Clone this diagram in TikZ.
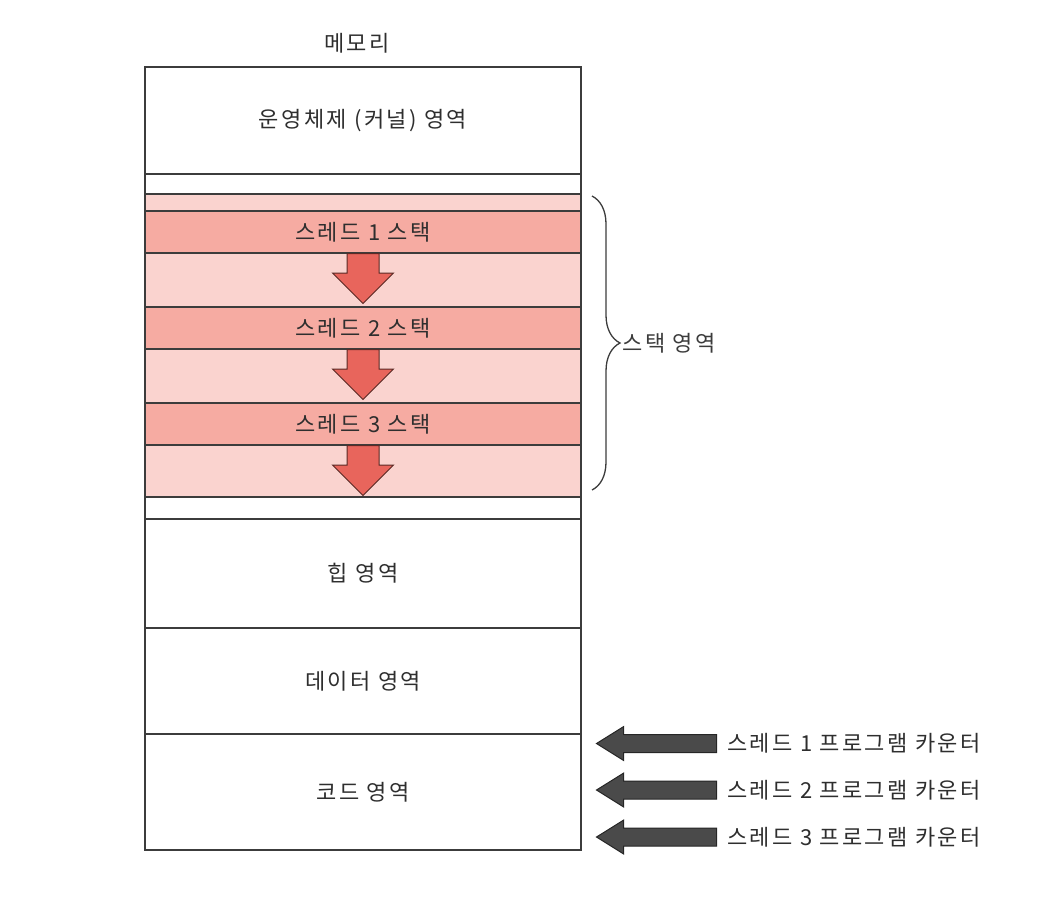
\documentclass[tikz,border=0pt]{standalone}
\usepackage{fontspec}
\setmainfont{Noto Sans CJK KR}[LetterSpace=11]
\usetikzlibrary{shapes.arrows, decorations.pathreplacing, positioning}

\definecolor{linegray}{HTML}{3C3C3C}
\definecolor{textgray}{HTML}{2E2E2E}
\definecolor{stacklight}{HTML}{FAD3CF}
\definecolor{stackdark}{HTML}{F6ABA2}
\definecolor{arrowred}{HTML}{E8655C}
\definecolor{arrowline}{HTML}{5A2A26}
\definecolor{pcgray}{HTML}{4A4A4A}

\begin{document}
\begin{tikzpicture}[x=1pt, y=-1pt,
    font=\fontsize{22}{26}\selectfont, text=textgray,
    area/.style={rectangle, draw=linegray, line width=1.5pt, minimum width=436pt, inner sep=0pt, outer sep=0pt},
    stackbg/.style={area, fill=stacklight},
    band/.style={area, fill=stackdark, minimum height=42pt},
    growarrow/.style={single arrow, draw=arrowline, fill=arrowred, line width=1pt, rotate=-90, anchor=tail,
        inner xsep=0pt, inner ysep=15.5pt, minimum height=50pt, single arrow head extend=14.5pt},
    pcarrow/.style={single arrow, draw=black!85, fill=pcgray, line width=1pt, rotate=180, anchor=tail,
        inner xsep=0pt, inner ysep=8.5pt, minimum height=120pt, single arrow head extend=8pt, single arrow tip angle=64},
    pclabel/.style={anchor=west, inner sep=0pt}
]
    \useasboundingbox (0,0) rectangle (1056,906);

    % memory layout, top to bottom
    \node[area, minimum height=107pt] (kernel) at (363,120.5) {운영체제 (커널) 영역};
    \node[area, minimum height=20pt, below=0pt of kernel] (gaptop) {};
    \node[stackbg, minimum height=303pt, below=0pt of gaptop] (stack) {};
    \node[area, minimum height=22pt, below=0pt of stack] (gapbot) {};
    \node[area, minimum height=109pt, below=0pt of gapbot] (heap) {힙 영역};
    \node[area, minimum height=106pt, below=0pt of heap] (data) {데이터 영역};
    \node[area, minimum height=116pt, below=0pt of data] (code) {코드 영역};

    \node[above=10pt of kernel, xshift=-6pt] (title) {메모리};

    % thread stacks
    \node[band, below=17pt of stack.north] (t1) {스레드 1 스택};
    \node[band, below=54pt of t1] (t2) {스레드 2 스택};
    \node[band, below=54pt of t2] (t3) {스레드 3 스택};

    \node[growarrow] (g1) at (t1.south) {};
    \node[growarrow] (g2) at (t2.south) {};
    \node[growarrow] (g3) at (t3.south) {};

    % stack brace
    \coordinate (btop) at (592,196);
    \coordinate (bbot) at (592,490);
    \draw[linegray, line width=1.3pt, decorate, decoration={brace, amplitude=28pt}]
        (btop) -- (bbot) node[midway, right=30pt, inner sep=0pt] (spclabel) {스택 영역};

    % program counters
    \node[pcarrow] (pc1) at (717,743.5) {};
    \node[pcarrow] (pc2) at (717,790) {};
    \node[pcarrow] (pc3) at (717,837) {};
    \node[pclabel, right=10pt of pc1.tail] (pcl1) {스레드 1 프로그램 카운터};
    \node[pclabel, right=10pt of pc2.tail] (pcl2) {스레드 2 프로그램 카운터};
    \node[pclabel, right=10pt of pc3.tail] (pcl3) {스레드 3 프로그램 카운터};
\end{tikzpicture}
\end{document}
